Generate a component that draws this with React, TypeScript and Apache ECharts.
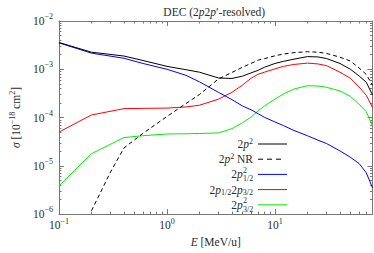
import React, { useEffect, useRef } from 'react';
import * as echarts from 'echarts';

// ---- data ----
const energies = [0.1, 0.2, 0.4, 0.6, 1, 1.5, 2, 3, 4, 5, 6, 7, 8, 10, 12, 15, 20, 25, 30, 40, 50, 60, 70, 80];
const total2p2 = [3.59e-3, 2.26e-3, 1.88e-3, 1.52e-3, 1.15e-3, 9.8e-4, 8.7e-4, 6.6e-4, 6.45e-4, 7.2e-4, 8.4e-4, 9.55e-4, 1.1e-3, 1.32e-3, 1.46e-3, 1.62e-3, 1.83e-3, 1.8e-3, 1.67e-3, 1.32e-3, 1.0e-3, 7.3e-4, 5.4e-4, 2.95e-4];
const nrEnergies = [0.2, 0.3, 0.4, 0.6, 1, 1.5, 2, 3, 4, 5, 6, 7, 8, 10, 12, 15, 20, 25, 30, 40, 50, 60, 70, 80];
const nr2p2 = [1.17e-6, 7.4e-6, 2.34e-5, 4.7e-5, 1.05e-4, 1.95e-4, 3.0e-4, 6.3e-4, 8.6e-4, 1.1e-3, 1.32e-3, 1.55e-3, 1.66e-3, 1.9e-3, 2.07e-3, 2.21e-3, 2.31e-3, 2.26e-3, 2.13e-3, 1.78e-3, 1.48e-3, 1.07e-3, 7.8e-4, 4.7e-4];
const p12sq = [3.53e-3, 2.16e-3, 1.69e-3, 1.32e-3, 1.0e-3, 7.5e-4, 5.5e-4, 3.33e-4, 2.35e-4, 1.74e-4, 1.45e-4, 1.2e-4, 1.01e-4, 8.1e-5, 6.8e-5, 5.4e-5, 4.2e-5, 3.4e-5, 2.9e-5, 2.04e-5, 1.5e-5, 1.12e-5, 7.2e-6, 3.5e-6];
const p12p32 = [5.0e-5, 1.13e-4, 1.53e-4, 1.55e-4, 1.57e-4, 1.66e-4, 1.8e-4, 2.4e-4, 3.33e-4, 4.7e-4, 6.5e-4, 7.9e-4, 8.7e-4, 1.02e-3, 1.15e-3, 1.26e-3, 1.34e-3, 1.29e-3, 1.19e-3, 8.7e-4, 6.5e-4, 4.3e-4, 2.9e-4, 1.62e-4];
const p32sq = [3.83e-6, 1.78e-5, 3.85e-5, 4.2e-5, 4.57e-5, 4.62e-5, 4.68e-5, 4.8e-5, 5.9e-5, 7.8e-5, 1.02e-4, 1.38e-4, 1.74e-4, 2.4e-4, 3.1e-4, 3.9e-4, 4.57e-4, 4.5e-4, 4.24e-4, 3.55e-4, 2.75e-4, 1.9e-4, 1.32e-4, 6.8e-5];

const seriesNames = ['2p^2', '2p^2 NR', '2p^2_{1/2}', '2p_{1/2}2p_{3/2}', '2p^2_{3/2}'];
const seriesColors = ['#000000', '#000000', '#0000ff', '#ff0000', '#00ee00'];
const legendMain = [
  '{n|2}{i|p}{sup|2}',
  '{n|2}{i|p}{sup|2}{n| NR}',
  '{n|2}{i|p}',
  '{n|2}{i|p}{sub|1/2}{n|2}{i|p}{sub|3/2}',
  '{n|2}{i|p}',
];
const legendSub = ['', '', '1/2', '', '3/2'];
const legendSup = ['', '', '2', '', '2'];

const xMin = 0.1;
const xMax = 80;
const yMin = 1e-6;
const yMax = 1e-2;
const xMajorTicks = [0.1, 1, 10];
const xTickExponents = ['−1', '0', '1'];
const xMinorTicks = [0.2, 0.3, 0.4, 0.5, 0.6, 0.7, 0.8, 0.9, 2, 3, 4, 5, 6, 7, 8, 9, 20, 30, 40, 50, 60, 70, 80];
const yMajorTicks = [1e-6, 1e-5, 1e-4, 1e-3, 1e-2];
const yTickExponents = ['−6', '−5', '−4', '−3', '−2'];
const yMinorTicks = [
  2e-6, 3e-6, 4e-6, 5e-6, 6e-6, 7e-6, 8e-6, 9e-6,
  2e-5, 3e-5, 4e-5, 5e-5, 6e-5, 7e-5, 8e-5, 9e-5,
  2e-4, 3e-4, 4e-4, 5e-4, 6e-4, 7e-4, 8e-4, 9e-4,
  2e-3, 3e-3, 4e-3, 5e-3, 6e-3, 7e-3, 8e-3, 9e-3,
];

const SERIF = '"Liberation Serif", "Times New Roman", serif';
const TXT = '#2b2b2b';
const AXIS = '#777777';

function richLabel(size: number, lh: number, supSize: number) {
  const b = { fontFamily: SERIF, color: TXT, fontWeight: 'normal' };
  return {
    n: { ...b, fontSize: size, lineHeight: lh },
    i: { ...b, fontSize: size, lineHeight: lh, fontStyle: 'italic' },
    sup: { ...b, fontSize: supSize, verticalAlign: 'top' },
    sub: { ...b, fontSize: supSize, verticalAlign: 'bottom' },
  };
}
function richGraphic(size: number, lh: number, supSize: number) {
  const b = { fontFamily: SERIF, fill: TXT, fontWeight: 'normal' };
  return {
    n: { ...b, fontSize: size, lineHeight: lh },
    i: { ...b, fontSize: size, lineHeight: lh, fontStyle: 'italic' },
    sup: { ...b, fontSize: supSize, verticalAlign: 'top' },
    sub: { ...b, fontSize: supSize, verticalAlign: 'bottom' },
  };
}

function expLabel(value: number, ticks: number[], exps: string[]) {
  let best = 0;
  let bd = Infinity;
  ticks.forEach((t, k) => {
    const d = Math.abs(Math.log10(value) - Math.log10(t));
    if (d < bd) { bd = d; best = k; }
  });
  return '{n|10}{sup|' + exps[best] + '}';
}

function pairs(xs: number[], ys: number[]) {
  return xs.map((x, k) => [x, ys[k]]);
}

export default function App() {
  const ref = useRef<HTMLDivElement>(null);
  useEffect(() => {
    if (!ref.current) return;
    const chart = echarts.init(ref.current, undefined, { renderer: 'svg' });

    const cv = document.createElement('canvas');
    const ctx = cv.getContext('2d');
    const measure = (s: string) => {
      if (!ctx) return s.length * 3.5;
      ctx.font = '8px "Liberation Serif"';
      return ctx.measureText(s).width;
    };

    const gridLeft = 46, gridRight = 1.5, gridTop = 21, gridBottom = 33;
    const xCommon = { type: 'log', min: xMin, max: xMax, splitLine: { show: false }, gridIndex: 0 };
    const yCommon = { type: 'log', min: yMin, max: yMax, splitLine: { show: false }, gridIndex: 0 };
    const majorTick = (vals: number[]) => ({ show: true, inside: true, length: 5, customValues: vals, lineStyle: { color: AXIS, width: 1 } });
    const minorTick = (vals: number[]) => ({ show: true, inside: true, length: 2.5, customValues: vals, lineStyle: { color: AXIS, width: 1 } });
    const axisLine = { show: true, onZero: false, lineStyle: { color: AXIS, width: 1 } };
    const noLine = { show: false, onZero: false };

    const legendX = 253;
    const legendLineX1 = 258;
    const legendLineX2 = 287;
    const legendY0 = 144;
    const legendDY = 15.2;

    const graphics: any[] = [];
    seriesNames.forEach((_, k) => {
      const y = legendY0 + k * legendDY;
      const stacked = !!legendSub[k];
      const w = stacked ? Math.max(measure(legendSub[k]), measure(legendSup[k])) : 0;
      graphics.push({
        type: 'text',
        x: legendX - w,
        y,
        style: {
          text: legendMain[k],
          rich: richGraphic(11.5, 13.5, 8),
          align: 'right',
          verticalAlign: 'middle',
        },
      });
      if (stacked) {
        graphics.push({
          type: 'text',
          x: legendX - w + 0.3,
          y: y - 4.4,
          style: { text: legendSup[k], fontFamily: SERIF, fontSize: 8, fill: TXT, align: 'left', verticalAlign: 'middle' },
        });
        graphics.push({
          type: 'text',
          x: legendX - w + 0.3,
          y: y + 4.3,
          style: { text: legendSub[k], fontFamily: SERIF, fontSize: 8, fill: TXT, align: 'left', verticalAlign: 'middle' },
        });
      }
      graphics.push({
        type: 'line',
        shape: { x1: legendLineX1, y1: y, x2: k === 1 ? legendLineX1 + 23 : legendLineX2, y2: y },
        style: { stroke: seriesColors[k], lineWidth: 1, lineDash: k === 1 ? [5, 4] : null },
      });
    });

    const mkSeries = (idx: number, data: number[][], dashed: boolean) => ({
      name: seriesNames[idx],
      type: 'line',
      xAxisIndex: 0,
      yAxisIndex: 0,
      data,
      symbol: 'none',
      showSymbol: false,
      smooth: false,
      clip: true,
      lineStyle: { color: seriesColors[idx], width: 1, type: dashed ? [4, 3] : 'solid' },
      itemStyle: { color: seriesColors[idx] },
    });

    chart.setOption({
      animation: false,
      title: {
        text: '{n|DEC (2}{i|p}{n|2}{i|p}{n|′-resolved)}',
        left: gridLeft + (374 - gridLeft - gridRight) / 2,
        textAlign: 'center',
        top: 0,
        textStyle: { fontWeight: 'normal', rich: richLabel(11.5, 14, 8) },
      },
      grid: { left: gridLeft, right: gridRight, top: gridTop, bottom: gridBottom, containLabel: false },
      xAxis: [
        {
          ...xCommon, position: 'bottom', axisLine,
          axisTick: majorTick(xMajorTicks),
          axisLabel: {
            show: true, margin: 3, customValues: xMajorTicks,
            formatter: (v: number) => expLabel(v, xMajorTicks, xTickExponents),
            rich: richLabel(11.5, 16, 8),
          },
          name: '{i|E}{n| [MeV/u]}',
          nameLocation: 'middle',
          nameGap: 20,
          nameTextStyle: { rich: richLabel(11.5, 14, 8), verticalAlign: 'top' },
        },
        { ...xCommon, position: 'bottom', axisLine: noLine, axisTick: minorTick(xMinorTicks), axisLabel: { show: false } },
        { ...xCommon, position: 'top', axisLine, axisTick: majorTick(xMajorTicks), axisLabel: { show: false } },
        { ...xCommon, position: 'top', axisLine: noLine, axisTick: minorTick(xMinorTicks), axisLabel: { show: false } },
      ],
      yAxis: [
        {
          ...yCommon, position: 'left', axisLine,
          axisTick: majorTick(yMajorTicks),
          axisLabel: {
            show: true, margin: 6, customValues: yMajorTicks,
            formatter: (v: number) => expLabel(v, yMajorTicks, yTickExponents),
            rich: richLabel(11.5, 17, 8),
          },
          name: '{i|σ}{n| [10}{sup|−18}{n| cm}{sup|2}{n|]}',
          nameLocation: 'middle',
          nameRotate: 90,
          nameGap: 27,
          nameTextStyle: { rich: richLabel(11.5, 16, 8) },
        },
        { ...yCommon, position: 'left', axisLine: noLine, axisTick: minorTick(yMinorTicks), axisLabel: { show: false } },
        { ...yCommon, position: 'right', axisLine, axisTick: majorTick(yMajorTicks), axisLabel: { show: false } },
        { ...yCommon, position: 'right', axisLine: noLine, axisTick: minorTick(yMinorTicks), axisLabel: { show: false } },
      ],
      graphic: graphics,
      series: [
        mkSeries(4, pairs(energies, p32sq), false),
        mkSeries(3, pairs(energies, p12p32), false),
        mkSeries(2, pairs(energies, p12sq), false),
        mkSeries(1, pairs(nrEnergies, nr2p2), true),
        mkSeries(0, pairs(energies, total2p2), false),
      ],
    });
    return () => chart.dispose();
  }, []);
  return (
    <div
      ref={ref}
      style={{ position: 'fixed', left: 0, top: 0, width: 374, height: 253, background: '#ffffff' }}
    />
  );
}
